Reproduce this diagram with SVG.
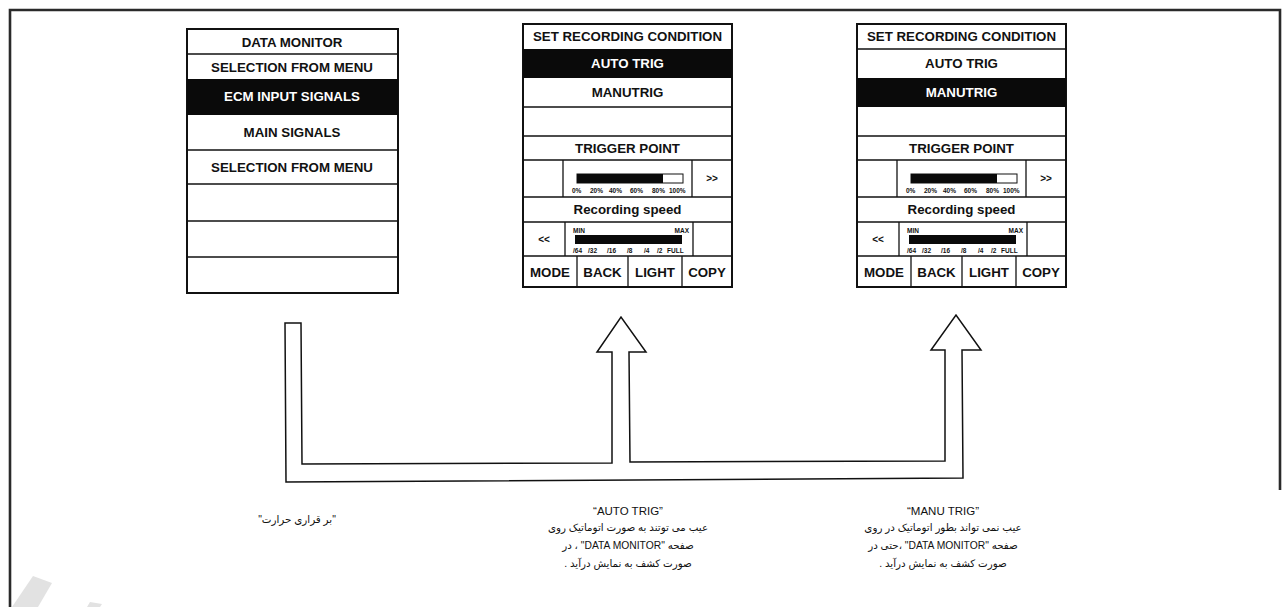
<svg xmlns="http://www.w3.org/2000/svg" width="1287" height="607" viewBox="0 0 1287 607">
  <style>
    .frame { fill: none; stroke: #2a2a2a; stroke-width: 2.6; }
    .bx { fill: #fff; stroke: #111; stroke-width: 2; }
    .ln { stroke: #111; stroke-width: 1.3; fill: none; }
    .hl { fill: #0a0a0a; }
    .t { font-family: "Liberation Sans", Arial, sans-serif; font-weight: bold; font-size: 13.3px; text-anchor: middle; fill: #111; }
    .w { fill: #fff; }
    .s { font-family: "Liberation Sans", Arial, sans-serif; font-weight: bold; font-size: 6.5px; fill: #111; }
    .ar { font-family: "Liberation Sans", Arial, sans-serif; font-weight: bold; font-size: 10px; text-anchor: middle; fill: #111; }
    .cap { font-family: "Liberation Sans", "DejaVu Sans", sans-serif; font-size: 11.5px; text-anchor: middle; fill: #111; }
    .fa { font-family: "Liberation Sans", "DejaVu Sans", sans-serif; font-size: 10.3px; text-anchor: middle; fill: #111; direction: rtl; unicode-bidi: embed; }
    .flow { fill: #fff; stroke: #111; stroke-width: 1.5; stroke-linejoin: miter; }
    .wm { fill: #e2e2e2; }
  </style>

  <!-- page frame -->
  <path class="frame" d="M10,607 L10,10 L1280,10 L1280,490"/>

  <!-- faint background mark, lower left -->
  <polygon class="wm" points="33,576 52,583 38,607 12,607"/>
  <polygon class="wm" points="90,602 102,604 100,607 87,607"/>

  <!-- DATA MONITOR menu screen -->
  <g id="screen-data-monitor">
    <rect class="bx" x="187" y="29" width="211" height="264"/>
    <rect class="hl" x="187" y="79" width="211" height="36"/>
    <line class="ln" x1="187" y1="54" x2="398" y2="54"/>
    <line class="ln" x1="187" y1="150" x2="398" y2="150"/>
    <line class="ln" x1="187" y1="184" x2="398" y2="184"/>
    <line class="ln" x1="187" y1="221" x2="398" y2="221"/>
    <line class="ln" x1="187" y1="257" x2="398" y2="257"/>
    <text class="t" x="292" y="47">DATA MONITOR</text>
    <text class="t" x="292" y="72">SELECTION FROM MENU</text>
    <text class="t w" x="292" y="101">ECM INPUT SIGNALS</text>
    <text class="t" x="292" y="137">MAIN SIGNALS</text>
    <text class="t" x="292" y="172">SELECTION FROM MENU</text>
  </g>

  <!-- SET RECORDING CONDITION screen, AUTO TRIG selected -->
  <g id="screen-auto-trig">
    <rect class="bx" x="523" y="24" width="209" height="263"/>
    <rect class="hl" x="523" y="49" width="209" height="29"/>
    <line class="ln" x1="523" y1="107" x2="732" y2="107"/>
    <line class="ln" x1="523" y1="136" x2="732" y2="136"/>
    <line class="ln" x1="523" y1="160" x2="732" y2="160"/>
    <line class="ln" x1="523" y1="197" x2="732" y2="197"/>
    <line class="ln" x1="523" y1="222" x2="732" y2="222"/>
    <line class="ln" x1="523" y1="256" x2="732" y2="256"/>
    <line class="ln" x1="563" y1="160" x2="563" y2="197"/>
    <line class="ln" x1="692" y1="160" x2="692" y2="197"/>
    <line class="ln" x1="565" y1="222" x2="565" y2="256"/>
    <line class="ln" x1="693" y1="222" x2="693" y2="256"/>
    <line class="ln" x1="577" y1="256" x2="577" y2="287"/>
    <line class="ln" x1="628" y1="256" x2="628" y2="287"/>
    <line class="ln" x1="682" y1="256" x2="682" y2="287"/>
    <text class="t" x="627.5" y="41">SET RECORDING CONDITION</text>
    <text class="t w" x="627.5" y="68">AUTO TRIG</text>
    <text class="t" x="627.5" y="97">MANUTRIG</text>
    <text class="t" x="627.5" y="153">TRIGGER POINT</text>
    <rect x="577" y="174" width="106" height="9" fill="#fff" stroke="#111" stroke-width="1"/>
    <rect x="577" y="174" width="86" height="9" fill="#0a0a0a"/>
    <text class="s" x="572" y="193">0%</text>
    <text class="s" x="590" y="193">20%</text>
    <text class="s" x="609" y="193">40%</text>
    <text class="s" x="630" y="193">60%</text>
    <text class="s" x="652" y="193">80%</text>
    <text class="s" x="669" y="193">100%</text>
    <text class="ar" x="712" y="182">&gt;&gt;</text>
    <text class="t" x="627.5" y="214">Recording speed</text>
    <text class="ar" x="544" y="243">&lt;&lt;</text>
    <text class="s" x="573" y="233">MIN</text>
    <text class="s" x="689" y="233" text-anchor="end">MAX</text>
    <rect x="575" y="235" width="107" height="9" fill="#0a0a0a"/>
    <text class="s" x="573" y="253">/64</text>
    <text class="s" x="588" y="253">/32</text>
    <text class="s" x="607" y="253">/16</text>
    <text class="s" x="627" y="253">/8</text>
    <text class="s" x="644" y="253">/4</text>
    <text class="s" x="657" y="253">/2</text>
    <text class="s" x="667" y="253">FULL</text>
    <text class="t" x="550" y="277">MODE</text>
    <text class="t" x="602.5" y="277">BACK</text>
    <text class="t" x="655" y="277">LIGHT</text>
    <text class="t" x="707" y="277">COPY</text>
  </g>

  <!-- SET RECORDING CONDITION screen, MANUTRIG selected -->
  <g id="screen-manu-trig" transform="translate(334,0)">
    <rect class="bx" x="523" y="24" width="209" height="263"/>
    <rect class="hl" x="523" y="78" width="209" height="29"/>
    <line class="ln" x1="523" y1="49" x2="732" y2="49"/>
    <line class="ln" x1="523" y1="136" x2="732" y2="136"/>
    <line class="ln" x1="523" y1="160" x2="732" y2="160"/>
    <line class="ln" x1="523" y1="197" x2="732" y2="197"/>
    <line class="ln" x1="523" y1="222" x2="732" y2="222"/>
    <line class="ln" x1="523" y1="256" x2="732" y2="256"/>
    <line class="ln" x1="563" y1="160" x2="563" y2="197"/>
    <line class="ln" x1="692" y1="160" x2="692" y2="197"/>
    <line class="ln" x1="565" y1="222" x2="565" y2="256"/>
    <line class="ln" x1="693" y1="222" x2="693" y2="256"/>
    <line class="ln" x1="577" y1="256" x2="577" y2="287"/>
    <line class="ln" x1="628" y1="256" x2="628" y2="287"/>
    <line class="ln" x1="682" y1="256" x2="682" y2="287"/>
    <text class="t" x="627.5" y="41">SET RECORDING CONDITION</text>
    <text class="t" x="627.5" y="68">AUTO TRIG</text>
    <text class="t w" x="627.5" y="97">MANUTRIG</text>
    <text class="t" x="627.5" y="153">TRIGGER POINT</text>
    <rect x="577" y="174" width="106" height="9" fill="#fff" stroke="#111" stroke-width="1"/>
    <rect x="577" y="174" width="86" height="9" fill="#0a0a0a"/>
    <text class="s" x="572" y="193">0%</text>
    <text class="s" x="590" y="193">20%</text>
    <text class="s" x="609" y="193">40%</text>
    <text class="s" x="630" y="193">60%</text>
    <text class="s" x="652" y="193">80%</text>
    <text class="s" x="669" y="193">100%</text>
    <text class="ar" x="712" y="182">&gt;&gt;</text>
    <text class="t" x="627.5" y="214">Recording speed</text>
    <text class="ar" x="544" y="243">&lt;&lt;</text>
    <text class="s" x="573" y="233">MIN</text>
    <text class="s" x="689" y="233" text-anchor="end">MAX</text>
    <rect x="575" y="235" width="107" height="9" fill="#0a0a0a"/>
    <text class="s" x="573" y="253">/64</text>
    <text class="s" x="588" y="253">/32</text>
    <text class="s" x="607" y="253">/16</text>
    <text class="s" x="627" y="253">/8</text>
    <text class="s" x="644" y="253">/4</text>
    <text class="s" x="657" y="253">/2</text>
    <text class="s" x="667" y="253">FULL</text>
    <text class="t" x="550" y="277">MODE</text>
    <text class="t" x="602.5" y="277">BACK</text>
    <text class="t" x="655" y="277">LIGHT</text>
    <text class="t" x="707" y="277">COPY</text>
  </g>

  <!-- hollow flow arrows -->
  <g id="connectors">
    <path class="flow" d="M285,323 L301,323 L302,464 L612,463 L612,352 L597,352 L621,317 L646,352 L629,352 L630,462 L945,461 L945,350 L931,350 L956,315 L981,350 L962,350 L963,478 L286,482 Z"/>
  </g>

  <!-- captions, set right to left -->
  <g id="caption-warmup">
    <text class="fa" x="297" y="523">"بر قراری حرارت"</text>
  </g>
  <g id="caption-auto-trig">
    <text class="cap" x="628" y="515">“AUTO TRIG”</text>
    <text class="fa" x="628" y="531">عیب می توتند به صورت اتوماتیک روی</text>
    <text class="fa" x="628" y="549">صفحه "DATA MONITOR" ، در</text>
    <text class="fa" x="628" y="567">صورت کشف به نمایش درآید .</text>
  </g>
  <g id="caption-manu-trig">
    <text class="cap" x="943" y="515">“MANU TRIG”</text>
    <text class="fa" x="943" y="531">عیب نمی تواند بطور اتوماتیک در روی</text>
    <text class="fa" x="943" y="549">صفحه "DATA MONITOR" ،حتی در</text>
    <text class="fa" x="943" y="567">صورت کشف به نمایش درآید .</text>
  </g>
</svg>
